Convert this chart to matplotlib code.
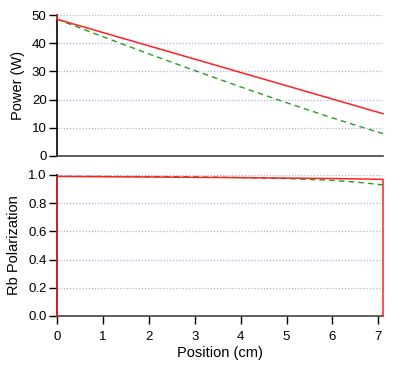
import matplotlib
matplotlib.use("Agg")
import matplotlib.pyplot as plt

plt.rcParams['font.family'] = ['Liberation Sans', 'DejaVu Sans']

# Power (top panel)
pos_red_p = [0, 0, 7.1]
power_red = [50, 48.5, 15.0]
pos_green_p = [0, 1, 2, 3, 4, 5, 6, 7, 7.1]
power_green = [48.5, 42.3, 36.2, 30.3, 24.5, 18.9, 13.5, 8.4, 8.0]

# Rb polarization (bottom panel)
pos_red_r = [0, 0, 2, 4, 6, 7.1, 7.1]
pol_red = [0.0, 0.99, 0.986, 0.981, 0.975, 0.969, 0.0]
pos_green_r = [0, 1, 2, 3, 4, 5, 6, 6.5, 7.1]
pol_green = [0.99, 0.99, 0.989, 0.987, 0.982, 0.975, 0.962, 0.95, 0.93]

power_ticks = [0, 10, 20, 30, 40, 50]
pol_ticks = [0.0, 0.2, 0.4, 0.6, 0.8, 1.0]
pos_ticks = [0, 1, 2, 3, 4, 5, 6, 7]

W, H = 415, 365
fig = plt.figure(figsize=(W / 100, H / 100), dpi=100)
left, right = 57 / W, 383 / W
ax1 = fig.add_axes([left, 1 - 156 / H, right - left, (156 - 15) / H])
ax2 = fig.add_axes([left, 1 - 316 / H, right - left, (316 - 175) / H])

grid_kw = dict(color='#b0b0f4', linestyle=(0, (1, 1.5)), linewidth=0.9)
red = '#ff2020'
green = '#20a020'
tick_fs = 9.5
label_fs = 10.5

for ax in (ax1, ax2):
    ax.set_xlim(0, 7.1)
    for s in ('top', 'right'):
        ax.spines[s].set_visible(False)
    ax.spines['bottom'].set_color('#444444')
    ax.spines['left'].set_color('black')
    ax.spines['bottom'].set_linewidth(1.2)
    ax.spines['left'].set_linewidth(1.2)
    ax.tick_params(axis='y', direction='out', length=6, width=1, labelsize=tick_fs, pad=1.5)
    ax.yaxis.grid(True, **grid_kw)
    ax.set_axisbelow(True)

ax1.plot(pos_green_p, power_green, color=green, linestyle=(0, (4, 3)), linewidth=1.0, clip_on=False, zorder=3)
ax1.plot(pos_red_p, power_red, color=red, linewidth=1.1, clip_on=False, zorder=3)
ax1.set_ylim(0, 50)
ax1.set_yticks(power_ticks)
ax1.set_xticks([])
ax1.set_ylabel('Power (W)', fontsize=label_fs, labelpad=5)

ax2.plot(pos_green_r, pol_green, color=green, linestyle=(0, (4, 3)), linewidth=1.0, clip_on=False, zorder=3)
ax2.plot(pos_red_r, pol_red, color=red, linewidth=1.1, clip_on=False, zorder=3)
ax2.set_ylim(0, 1.0)
ax2.set_yticks(pol_ticks)
ax2.set_yticklabels([f'{t:.1f}' for t in pol_ticks])
ax2.set_xticks(pos_ticks)
ax2.tick_params(axis='x', direction='out', length=6, width=1, labelsize=tick_fs, pad=5)
ax2.set_ylabel('Rb Polarization', fontsize=label_fs, labelpad=5)
ax2.set_xlabel('Position (cm)', fontsize=label_fs, labelpad=2)

fig.savefig('out.png', dpi=100)
